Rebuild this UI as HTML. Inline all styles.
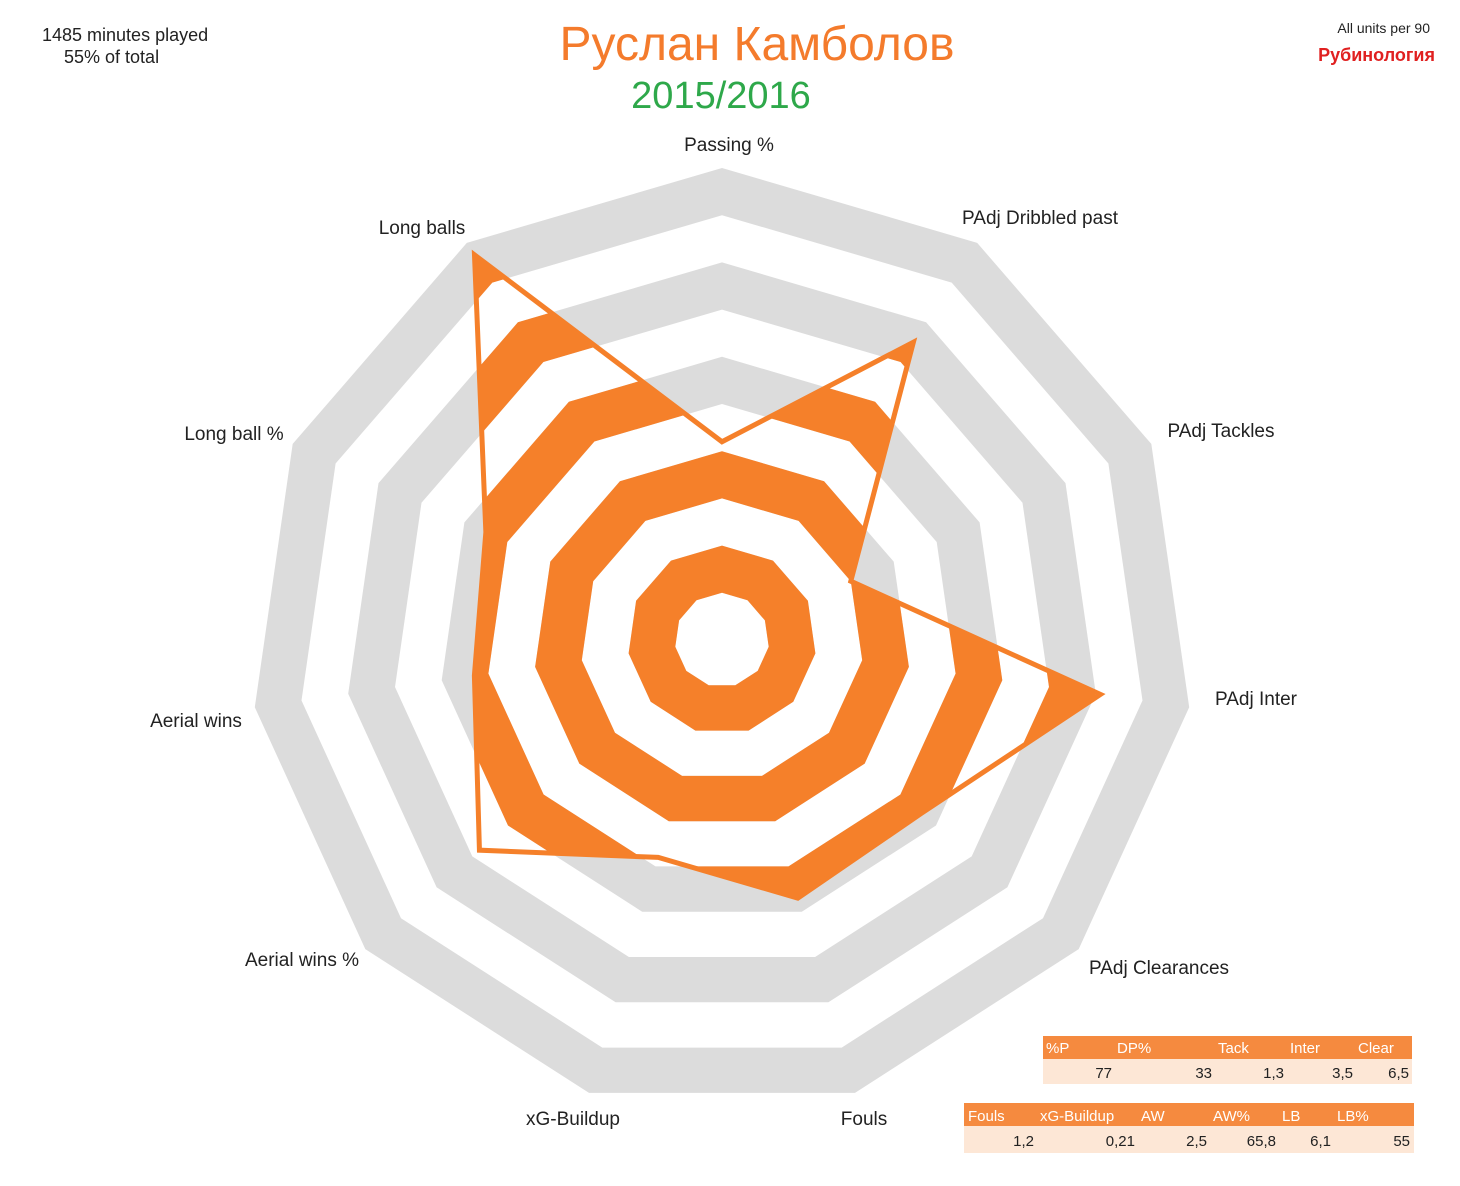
<!DOCTYPE html>
<html><head><meta charset="utf-8"><style>
body{margin:0;background:#fff;font-family:"Liberation Sans","Noto Sans CJK SC",sans-serif}
svg text{font-family:"Liberation Sans","Noto Sans CJK SC",sans-serif}
</style></head><body>
<svg id="c" width="1460" height="1181" viewBox="0 0 1460 1181" xmlns="http://www.w3.org/2000/svg">
<text x="42" y="41" font-size="18" fill="#222">1485  minutes played</text>
<text x="64" y="63" font-size="18" fill="#222">55% of total</text>
<text x="757" y="60" font-size="48" fill="#f47b2c" text-anchor="middle">Руслан Камболов</text>
<text x="721" y="108" font-size="38" fill="#2ea84a" text-anchor="middle">2015/2016</text>
<text x="1430" y="33" font-size="14" fill="#222" text-anchor="end">All units per 90</text>
<text x="1435" y="61" font-size="18" font-weight="bold" fill="#e02020" text-anchor="end">Рубинология</text>
<g id="rings"></g>
<g id="orange"></g>
<g id="labels"></g>
<g>
<rect x="1043" y="1036" width="369" height="23" fill="#f58a3f"/>
<rect x="1043" y="1059" width="369" height="25" fill="#fde7d6"/>
<g font-size="15" fill="#fff"><text x="1046" y="1053">%P</text><text x="1117" y="1053">DP%</text><text x="1218" y="1053">Tack</text><text x="1290" y="1053">Inter</text><text x="1358" y="1053">Clear</text></g>
<g font-size="15" fill="#222" text-anchor="end"><text x="1112" y="1078">77</text><text x="1212" y="1078">33</text><text x="1284" y="1078">1,3</text><text x="1353" y="1078">3,5</text><text x="1409" y="1078">6,5</text></g>
</g>
<g>
<rect x="964" y="1103" width="450" height="23" fill="#f58a3f"/>
<rect x="964" y="1126" width="450" height="27" fill="#fde7d6"/>
<g font-size="15" fill="#fff"><text x="968" y="1121">Fouls</text><text x="1040" y="1121">xG-Buildup</text><text x="1141" y="1121">AW</text><text x="1213" y="1121">AW%</text><text x="1282" y="1121">LB</text><text x="1337" y="1121">LB%</text></g>
<g font-size="15" fill="#222" text-anchor="end"><text x="1034" y="1146">1,2</text><text x="1135" y="1146">0,21</text><text x="1207" y="1146">2,5</text><text x="1276" y="1146">65,8</text><text x="1331" y="1146">6,1</text><text x="1410" y="1146">55</text></g>
</g>
</svg>
<script>
const categories=["Passing %","PAdj Dribbled past","PAdj Tackles","PAdj Inter","PAdj Clearances","Fouls","xG-Buildup","Aerial wins %","Aerial wins","Long ball %","Long balls"];
const values=[42,75,30,81,56,57,48,68,53,55,97];
const ringLevels=[20,40,60,80,100];
const NS="http://www.w3.org/2000/svg";
const cx=722,cy=640,R=472,N=categories.length;
function ang(i){return i*2*Math.PI/N;}
function pt(i,v){const r=v/100*R;return [cx+r*Math.sin(ang(i)),cy-r*Math.cos(ang(i))];}
function poly(v){let d="";for(let i=0;i<N;i++){const p=pt(i,v);d+=(i?"L":"M")+p[0].toFixed(1)+","+p[1].toFixed(1);}return d+"Z";}
function band(l){return poly(l)+poly(l-10);}
const rings=document.getElementById('rings'),orange=document.getElementById('orange'),labels=document.getElementById('labels');
const svg=document.getElementById('c');
const defs=document.createElementNS(NS,'defs');
const cp=document.createElementNS(NS,'clipPath');cp.setAttribute('id','dclip');
const cpp=document.createElementNS(NS,'path');
let dd="";for(let i=0;i<N;i++){const p=pt(i,values[i]);dd+=(i?"L":"M")+p[0]+","+p[1];}dd+="Z";
cpp.setAttribute('d',dd);cp.appendChild(cpp);defs.appendChild(cp);svg.insertBefore(defs,svg.firstChild);
ringLevels.forEach(l=>{
 const g=document.createElementNS(NS,'path');
 
 
 g.setAttribute('d',band(l));g.setAttribute('fill','#dcdcdc');g.setAttribute('fill-rule','evenodd');rings.appendChild(g);
 const o=document.createElementNS(NS,'path');
 
 
 o.setAttribute('d',band(l));o.setAttribute('fill','#f5802a');o.setAttribute('fill-rule','evenodd');o.setAttribute('clip-path','url(#dclip)');orange.appendChild(o);
});
const outline=document.createElementNS(NS,'path');


outline.setAttribute('d',dd);outline.setAttribute('fill','none');outline.setAttribute('stroke','#f5802a');outline.setAttribute('stroke-width','5');outline.setAttribute('stroke-linejoin','miter');
orange.appendChild(outline);
const labelPos=[[729,151,"middle"],[1040,224,"middle"],[1221,437,"middle"],[1256,705,"middle"],[1159,974,"middle"],[864,1125,"middle"],[573,1125,"middle"],[302,966,"middle"],[196,727,"middle"],[234,440,"middle"],[422,234,"middle"]];
categories.forEach((c,i)=>{
 const t=document.createElementNS(NS,'text');
 
 
 t.setAttribute('x',labelPos[i][0]);t.setAttribute('y',labelPos[i][1]);t.setAttribute('text-anchor',labelPos[i][2]);
 t.setAttribute('font-size','19');t.setAttribute('fill','#222');t.textContent=c;labels.appendChild(t);
});
</script>
</body></html>
